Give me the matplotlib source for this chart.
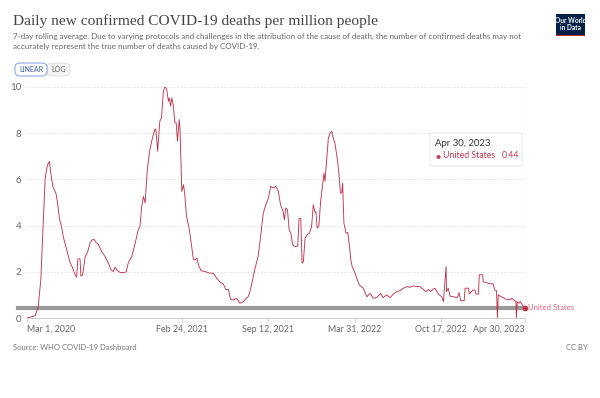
import numpy as np
import pandas as pd
import matplotlib
matplotlib.use("Agg")
import matplotlib.pyplot as plt
from matplotlib.patches import FancyBboxPatch, Rectangle

plt.rcParams['font.family'] = ['Lato', 'DejaVu Sans']

# data: days since 2020-03-01, deaths per million (7-day avg)
start = pd.Timestamp("2020-03-01")
days = [0, 19, 26, 32, 38, 42, 46, 48, 52, 55, 60, 63, 67, 71, 75, 80, 84, 90, 94,
        100, 106, 110, 115, 118, 123, 125, 129, 135, 141, 146, 151, 155, 160, 165,
        173, 181, 189, 195, 200, 204, 210, 216, 223, 230, 235, 243, 250, 258, 262,
        266, 270, 274, 279, 285, 291, 297, 299, 303, 308, 312, 316, 320, 324, 328,
        330, 333, 336, 339, 343, 346, 349, 353, 355, 359, 363, 366, 370, 376, 382,
        386, 390, 394, 399, 404, 413, 424, 432, 440, 448, 455, 462, 467, 472, 478,
        486, 494, 502, 508, 513, 517, 525, 529, 536, 540, 548, 554, 560, 565, 571,
        577, 583, 588, 594, 597, 600, 604, 608, 612, 616, 622, 628, 631, 635, 638,
        641, 645, 649, 655, 660, 664, 668, 670, 673, 677, 681, 686, 689, 691, 695,
        699, 703, 707, 710, 714, 720, 724, 727, 730, 732, 735, 740, 744, 748, 751,
        754, 761, 766, 771, 780, 788, 796, 803, 811, 820, 826, 834, 842, 850, 857,
        865, 873, 881, 888, 896, 904, 911, 919, 925, 931, 936, 941, 946, 952, 956,
        962, 966, 968, 972, 973, 977, 981, 989, 998, 1002, 1006, 1014, 1016, 1024,
        1026, 1034, 1039, 1041, 1047, 1049, 1057, 1058, 1065, 1074, 1081, 1085,
        1089, 1091, 1093, 1097, 1104, 1112, 1120, 1124, 1129, 1134, 1135, 1137,
        1141, 1144, 1149, 1155]
deaths = [0.0, 0.1, 0.49, 1.65, 4.25, 6.0, 6.5, 6.64, 6.78, 6.28, 5.7, 5.55, 5.41,
          4.97, 4.32, 3.96, 3.53, 3.09, 2.81, 2.4, 2.16, 1.94, 1.77, 2.56, 2.56,
          1.82, 1.86, 2.66, 2.88, 3.24, 3.38, 3.41, 3.27, 3.2, 2.88, 2.66, 2.37,
          2.08, 2.01, 2.2, 2.05, 1.97, 1.97, 1.99, 2.4, 2.66, 3.17, 3.82, 3.96,
          4.83, 5.26, 4.98, 6.42, 7.29, 7.8, 8.18, 8.15, 7.22, 8.52, 8.66, 9.75,
          10.07, 9.89, 9.38, 9.53, 9.17, 9.53, 9.24, 8.45, 8.45, 7.65, 8.59, 8.16,
          5.48, 5.77, 5.34, 4.4, 3.89, 3.09, 2.52, 2.52, 2.59, 2.23, 2.05, 2.01,
          1.94, 1.94, 1.72, 1.55, 1.48, 1.21, 1.24, 0.81, 0.78, 0.85, 0.64, 0.71,
          0.85, 0.92, 1.14, 1.79, 2.16, 2.66, 3.24, 4.54, 4.9, 5.19, 5.7, 5.63,
          5.7, 5.48, 4.9, 4.61, 4.25, 4.76, 4.7, 3.82, 3.67, 3.17, 3.09, 3.12,
          4.32, 4.3, 2.37, 2.45, 3.46, 3.6, 3.67, 3.96, 4.9, 4.57, 4.6, 3.89, 3.99,
          5.05, 5.84, 6.28, 5.91, 6.85, 7.8, 8.01, 8.08, 7.8, 7.58, 6.85, 6.13,
          5.41, 5.41, 5.84, 4.11, 3.67, 3.7, 3.09, 2.52, 2.23, 1.94, 1.65, 1.43,
          1.29, 0.92, 1.07, 0.85, 0.88, 1.07, 0.88, 1.0, 0.88, 1.04, 1.14, 1.18,
          1.29, 1.36, 1.33, 1.39, 1.36, 1.36, 1.24, 1.14, 1.24, 1.14, 1.24, 1.29,
          1.1, 1.0, 0.92, 0.71, 1.29, 2.23, 1.14, 1.29, 0.95, 0.92, 0.88, 1.1,
          0.75, 0.75, 1.29, 1.29, 1.04, 1.21, 1.21, 1.04, 1.04, 1.87, 1.87, 1.57,
          1.53, 1.48, 1.48, 1.21, 1.18, 0.0, 1.0, 0.95, 0.88, 0.81, 0.78, 0.85,
          0.78, 0.71, 0.0, 0.71, 0.64, 0.71, 0.56, 0.44]

tick_dates = ["2020-03-01", "2021-02-24", "2021-09-12", "2022-03-31", "2022-10-17", "2023-04-30"]
tick_labels = ["Mar 1, 2020", "Feb 24, 2021", "Sep 12, 2021", "Mar 31, 2022", "Oct 17, 2022", "Apr 30, 2023"]
y_ticks = [0, 2, 4, 6, 8, 10]
last_value = 0.44

dates = start + pd.to_timedelta(days, unit="D")
tdates = pd.to_datetime(tick_dates)

red = "#c0354c"
W, H = 600, 398

fig = plt.figure(figsize=(W / 100, H / 100), dpi=100)
ax = fig.add_axes([27 / W, 1 - 318 / H, 498 / W, 231 / H])

ax.plot(dates, deaths, color=red, lw=0.65, zorder=3)
ax.set_xlim(dates[0], dates[-1])
ax.set_ylim(0, 10)

# hover guide lines
ax.plot([-0.018, 1], [last_value, last_value], transform=ax.get_yaxis_transform(),
        color="#999999", lw=3, clip_on=False, zorder=2)
ax.axvline(dates[-1], color="#e2e2e2", lw=0.8, zorder=1)
ax.scatter([dates[-1]], [last_value], s=9, color=red, zorder=4, clip_on=False)
ax.annotate("United States", (dates[-1], last_value), xytext=(2.5, 0),
            textcoords="offset points", va="center", ha="left",
            fontsize=5.6, color="#d4687a", annotation_clip=False)

ax.set_yticks(y_ticks)
ax.set_yticklabels([str(v) for v in y_ticks])
ax.yaxis.grid(True, color="#dddddd", ls=(0, (2, 2)), lw=0.6)
ax.set_axisbelow(True)
ax.tick_params(axis="y", length=0, pad=4, labelsize=7, labelcolor="#666666")

ax.set_xticks(tdates)
ax.set_xticklabels(tick_labels)
ax.tick_params(axis="x", length=3, width=0.6, color="#cccccc", pad=2,
               labelsize=6.4, labelcolor="#666666")
xl = ax.get_xticklabels()
xl[0].set_ha("left")
xl[-1].set_ha("right")
for lab in xl[1:-1]:
    lab.set_ha("center")

for s in ["top", "right", "left"]:
    ax.spines[s].set_visible(False)
ax.spines["bottom"].set_color("#cccccc")
ax.spines["bottom"].set_linewidth(0.7)

# tooltip
fig.patches.append(FancyBboxPatch((430 / W, 1 - 166 / H), 92 / W, 33 / H,
                                  boxstyle="round,pad=0,rounding_size=0.003",
                                  transform=fig.transFigure, facecolor="white",
                                  edgecolor="#e4e4e4", lw=0.7, zorder=5))
fig.text(435 / W, 1 - 143 / H, "Apr 30, 2023", fontsize=6.9, color="#333333",
         va="center", zorder=6)
fig.text(437.5 / W, 1 - 155.5 / H, "\u25CF", fontsize=6, color=red, va="center",
         ha="center", zorder=6)
fig.text(443 / W, 1 - 155.5 / H, "United States", fontsize=6.3, color=red,
         va="center", zorder=6)
fig.text(519 / W, 1 - 155.5 / H, f"{last_value:.2f}", fontsize=6.3, color=red,
         va="center", ha="right", zorder=6)

# header
fig.text(13 / W, 1 - 21 / H, "Daily new confirmed COVID-19 deaths per million people",
         family="Liberation Serif", fontsize=11.1, color="#444444", va="center")
fig.text(13 / W, 1 - 36 / H,
         "7-day rolling average. Due to varying protocols and challenges in the attribution "
         "of the cause of death, the number of confirmed deaths may not",
         fontsize=5.75, color="#666666", va="center")
fig.text(13 / W, 1 - 46 / H,
         "accurately represent the true number of deaths caused by COVID-19.",
         fontsize=5.75, color="#666666", va="center")

# linear / log buttons
fig.patches.append(FancyBboxPatch((47 / W, 1 - 76 / H), 23 / W, 13 / H,
                                  boxstyle="round,pad=0,rounding_size=0.01",
                                  transform=fig.transFigure, facecolor="#f2f2f2",
                                  edgecolor="#dddddd", lw=0.6))
fig.patches.append(FancyBboxPatch((15 / W, 1 - 76 / H), 32 / W, 13 / H,
                                  boxstyle="round,pad=0,rounding_size=0.01",
                                  transform=fig.transFigure, facecolor="white",
                                  edgecolor="#8fa9e8", lw=0.8))
fig.text(31 / W, 1 - 69.5 / H, "LINEAR", fontsize=5.1, color="#3c5fb3",
         ha="center", va="center")
fig.text(58.5 / W, 1 - 69.5 / H, "LOG", fontsize=5.1, color="#666666",
         ha="center", va="center")

# logo
fig.patches.append(Rectangle((556 / W, 1 - 36 / H), 29 / W, 22 / H,
                             transform=fig.transFigure, facecolor="#002147", lw=0))
fig.patches.append(Rectangle((556 / W, 1 - 36 / H), 29 / W, 1.3 / H,
                             transform=fig.transFigure, facecolor="#ce261e", lw=0))
fig.text(570.5 / W, 1 - 20.5 / H, "Our World", fontsize=4.7, color="white",
         ha="center", va="center", weight="bold")
fig.text(570.5 / W, 1 - 28 / H, "in Data", fontsize=4.7, color="white",
         ha="center", va="center", weight="bold")

# footer
fig.text(13 / W, 1 - 348 / H, "Source: WHO COVID-19 Dashboard", fontsize=5.5,
         color="#777777", va="center")
fig.text(588 / W, 1 - 348 / H, "CC BY", fontsize=5.5, color="#777777",
         va="center", ha="right")

fig.savefig("out.png", dpi=100)
